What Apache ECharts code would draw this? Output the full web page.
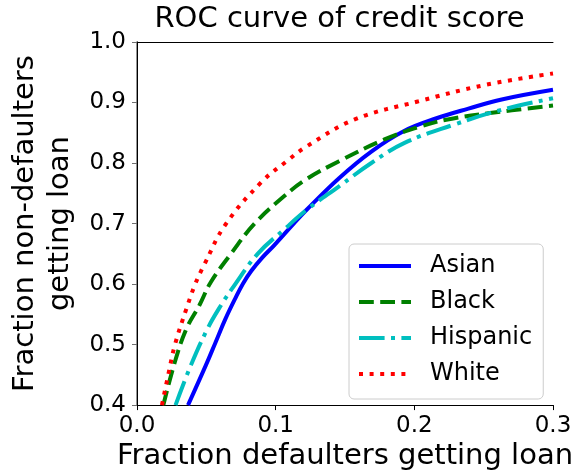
<!DOCTYPE html>
<html>
<head>
<meta charset="utf-8">
<script src="https://cdn.jsdelivr.net/npm/echarts@6/dist/echarts.min.js"></script>
<style>
  html, body { margin: 0; padding: 0; background: #fff; }
  #chart { width: 577px; height: 476px; }
</style>
</head>
<body>
<div id="chart"></div>
<script>
// ROC curves: fraction of defaulters (x) vs fraction of non-defaulters (y) getting a loan
const groupNames = ['Asian', 'Black', 'Hispanic', 'White'];

const asianX = [0.0368, 0.0497, 0.0567, 0.0637, 0.0708, 0.0765, 0.0825, 0.090, 0.0989, 0.113, 0.122, 0.1457, 0.169, 0.1926, 0.216, 0.239, 0.263, 0.300];
const asianY = [0.400, 0.466, 0.504, 0.542, 0.576, 0.601, 0.622, 0.643, 0.664, 0.700, 0.722, 0.775, 0.819, 0.853, 0.874, 0.890, 0.905, 0.921];

const blackX = [0.019, 0.0274, 0.0356, 0.045, 0.0532, 0.0684, 0.0848, 0.106, 0.122, 0.1457, 0.1785, 0.204, 0.224, 0.256, 0.300];
const blackY = [0.400, 0.472, 0.526, 0.565, 0.603, 0.652, 0.700, 0.745, 0.773, 0.803, 0.839, 0.860, 0.872, 0.883, 0.895];

const hispanicX = [0.0278, 0.038, 0.0508, 0.0614, 0.0684, 0.087, 0.106, 0.122, 0.146, 0.169, 0.1926, 0.228, 0.263, 0.300];
const hispanicY = [0.400, 0.461, 0.526, 0.568, 0.592, 0.650, 0.690, 0.722, 0.762, 0.800, 0.833, 0.863, 0.888, 0.907];

const whiteX = [0.018, 0.0227, 0.0274, 0.0356, 0.042, 0.0485, 0.0637, 0.0895, 0.108, 0.122, 0.157, 0.203, 0.251, 0.300];
const whiteY = [0.400, 0.452, 0.500, 0.559, 0.600, 0.632, 0.698, 0.768, 0.803, 0.827, 0.872, 0.902, 0.929, 0.948];

const xTickLabels = ['0.0', '0.1', '0.2', '0.3'];
const yTickLabels = ['0.4', '0.5', '0.6', '0.7', '0.8', '0.9', '1.0'];

const FONT = 'DejaVu Sans';

function pairs(xs, ys) {
  return xs.map((x, i) => [x, ys[i]]);
}

function curve(name, xs, ys, color, type) {
  return {
    name: name,
    type: 'line',
    data: pairs(xs, ys),
    smooth: 0.4,
    symbol: 'none',
    showSymbol: false,
    clip: true,
    lineStyle: { color: color, width: 4, type: type, cap: 'butt' },
    itemStyle: { color: color },
    emphasis: { disabled: true }
  };
}

const chart = echarts.init(document.getElementById('chart'), null, { renderer: 'canvas' });

chart.setOption({
  animation: false,
  title: {
    text: 'ROC curve of credit score',
    left: 339.5,
    textAlign: 'center',
    top: 5,
    padding: 0,
    textStyle: { fontFamily: FONT, fontSize: 29, fontWeight: 'normal', color: '#000' }
  },
  legend: {
    data: groupNames,
    orient: 'vertical',
    left: 349,
    top: 244,
    itemWidth: 52,
    itemHeight: 14,
    itemGap: 12,
    padding: [10, 11, 13, 8],
    backgroundColor: 'rgba(255,255,255,0.8)',
    borderColor: '#cccccc',
    borderWidth: 1,
    borderRadius: 5,
    selectedMode: false,
    lineStyle: { width: 4 },
    itemStyle: { opacity: 0, borderWidth: 0 },
    textStyle: { fontFamily: FONT, fontSize: 24, color: '#000', padding: [0, 0, 0, 14] }
  },
  grid: { left: 126, right: 24, top: 42, bottom: 69, containLabel: false },
  xAxis: [{
    type: 'value',
    min: 0, max: 0.3, interval: 0.1,
    name: 'Fraction defaulters getting loan',
    nameLocation: 'middle',
    nameGap: 36,
    nameTextStyle: { fontFamily: FONT, fontSize: 29, color: '#000' },
    axisLine: { show: true, lineStyle: { color: '#000', width: 1 } },
    axisTick: { show: true, inside: false, length: 5, lineStyle: { color: '#000' } },
    axisLabel: {
      fontFamily: FONT, fontSize: 23, color: '#000', margin: 9,
      formatter: v => xTickLabels[Math.round(v * 10)]
    },
    splitLine: { show: false }
  }, {
    type: 'value', position: 'top', min: 0, max: 0.3,
    axisLine: { show: true, lineStyle: { color: '#000', width: 1 } },
    axisTick: { show: false }, axisLabel: { show: false }, splitLine: { show: false }
  }],
  yAxis: [{
    type: 'value',
    min: 0.4, max: 1.0, interval: 0.1,
    name: 'Fraction non-defaulters\ngetting loan',
    nameLocation: 'middle',
    nameGap: 59,
    nameTextStyle: { fontFamily: FONT, fontSize: 29, color: '#000', lineHeight: 35 },
    axisLine: { show: true, lineStyle: { color: '#707070', width: 1.5 } },
    axisTick: { show: true, inside: false, length: 5, lineStyle: { color: '#707070' } },
    axisLabel: {
      fontFamily: FONT, fontSize: 23, color: '#000', margin: 11,
      formatter: v => yTickLabels[Math.round(v * 10) - 4]
    },
    splitLine: { show: false }
  }, {
    type: 'value', position: 'right', min: 0.4, max: 1.0,
    axisLine: { show: true, lineStyle: { color: '#000', width: 1 } },
    axisTick: { show: false }, axisLabel: { show: false }, splitLine: { show: false }
  }],
  series: [
    curve('Asian', asianX, asianY, '#0000ff', 'solid'),
    curve('Black', blackX, blackY, '#008000', [14.8, 6.4]),
    curve('Hispanic', hispanicX, hispanicY, '#00bfbf', [25.6, 6.4, 4, 6.4]),
    curve('White', whiteX, whiteY, '#ff0000', [4, 6.6])
  ]
});
</script>
</body>
</html>
